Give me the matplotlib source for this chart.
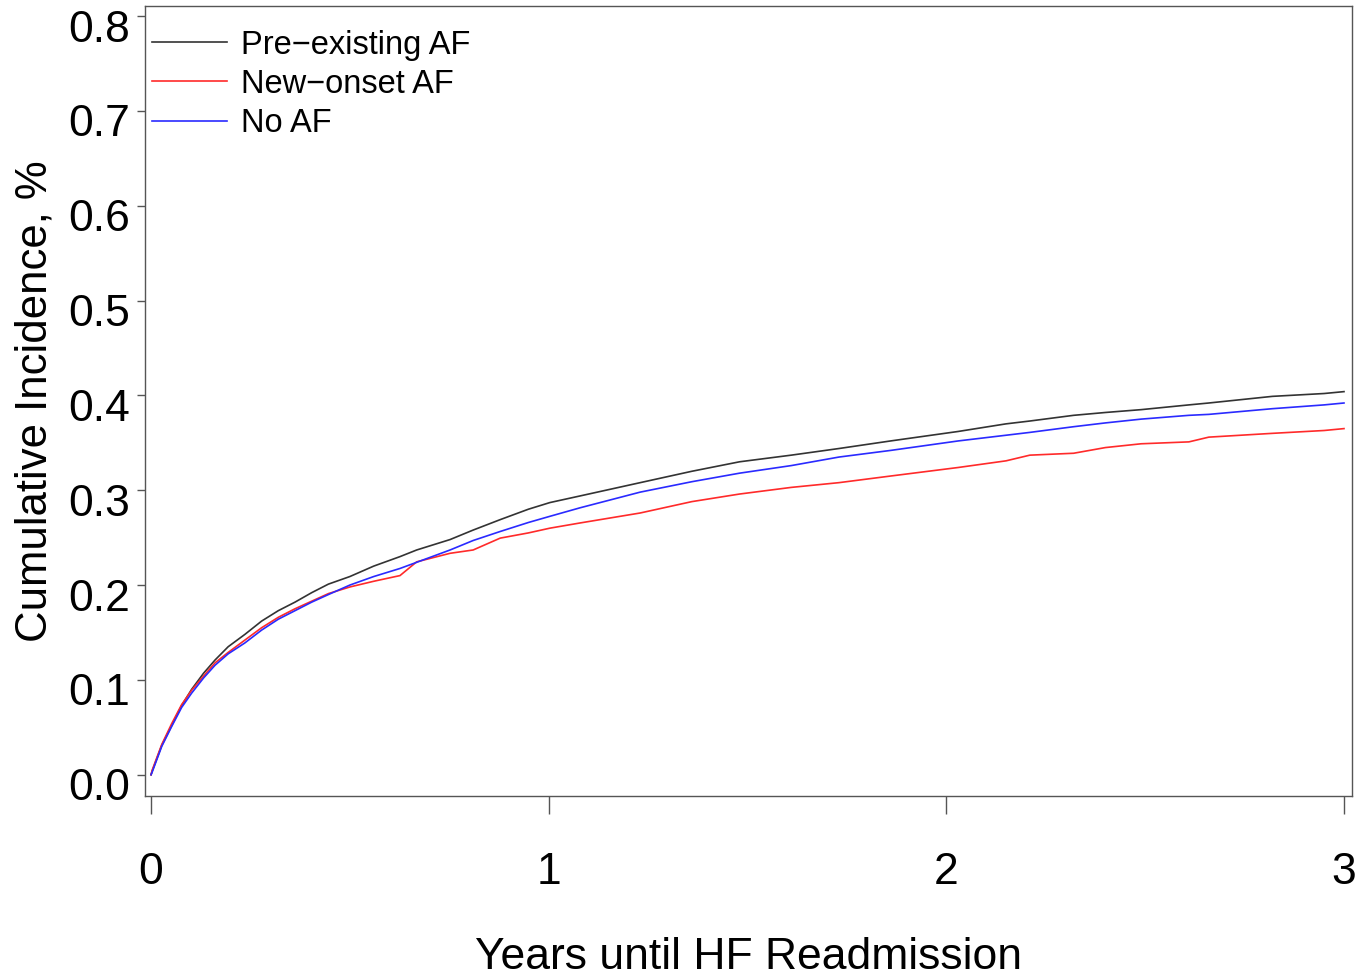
import matplotlib
matplotlib.use("Agg")
import matplotlib.pyplot as plt
import matplotlib.transforms as mtransforms

# time in years
years = [0.0, 0.003, 0.027, 0.052, 0.077, 0.102, 0.132, 0.161, 0.194, 0.236,
         0.278, 0.320, 0.362, 0.404, 0.446, 0.500, 0.560, 0.626, 0.668, 0.752,
         0.810, 0.878, 0.949, 1.003, 1.079, 1.23, 1.36, 1.48, 1.61, 1.73,
         1.86, 2.03, 2.15, 2.21, 2.32, 2.40, 2.49, 2.61, 2.66, 2.82,
         2.95, 3.00]

pre_existing_af = [0.000, 0.004, 0.031, 0.052, 0.073, 0.090, 0.107, 0.121, 0.135, 0.148,
                   0.162, 0.173, 0.182, 0.192, 0.201, 0.209, 0.220, 0.230, 0.237, 0.248,
                   0.258, 0.269, 0.280, 0.287, 0.294, 0.308, 0.320, 0.330, 0.337, 0.344,
                   0.352, 0.362, 0.370, 0.373, 0.379, 0.382, 0.385, 0.390, 0.392, 0.399,
                   0.402, 0.404]

new_onset_af = [0.000, 0.005, 0.032, 0.054, 0.074, 0.089, 0.104, 0.118, 0.129, 0.142,
                0.155, 0.166, 0.175, 0.183, 0.191, 0.198, 0.204, 0.210, 0.2245, 0.2335,
                0.237, 0.2495, 0.255, 0.260, 0.2655, 0.276, 0.288, 0.296, 0.303, 0.308,
                0.315, 0.324, 0.331, 0.337, 0.339, 0.345, 0.349, 0.351, 0.356, 0.360,
                0.363, 0.365]

no_af = [0.000, 0.003, 0.030, 0.051, 0.071, 0.086, 0.102, 0.1155, 0.1275, 0.139,
         0.1525, 0.164, 0.173, 0.182, 0.190, 0.200, 0.209, 0.2175, 0.224, 0.237,
         0.247, 0.2565, 0.266, 0.2725, 0.2815, 0.298, 0.309, 0.318, 0.326, 0.335,
         0.342, 0.352, 0.358, 0.361, 0.367, 0.371, 0.375, 0.379, 0.380, 0.386,
         0.390, 0.392]

series_labels = ["Pre\u2212existing AF", "New\u2212onset AF", "No AF"]
series_colors = ["#333333", "#ff2a2a", "#2a2aff"]

x_ticks = [0, 1, 2, 3]
y_ticks = [0.0, 0.1, 0.2, 0.3, 0.4, 0.5, 0.6, 0.7, 0.8]

plt.rcParams["font.family"] = ["Liberation Sans", "DejaVu Sans"]

fig = plt.figure(figsize=(13.71, 9.77), dpi=100)
ax = fig.add_axes([0.1058, 0.1853, 0.8803, 0.8086])

for vals, label, color in zip([pre_existing_af, new_onset_af, no_af],
                              series_labels, series_colors):
    ax.plot(years, vals, color=color, linewidth=1.2, label=label)

ax.set_xlim(-0.0151, 3.020)
ax.set_ylim(-0.0224, 0.8107)

ax.set_xticks(x_ticks)
ax.set_xticklabels([str(t) for t in x_ticks])
ax.set_yticks(y_ticks)
ax.set_yticklabels([f"{t:.1f}" for t in y_ticks])

for sp in ax.spines.values():
    sp.set_color("#555555")
    sp.set_linewidth(1.0)

ax.tick_params(axis="y", length=6, width=1.0, color="#555555",
               labelsize=32, pad=5)
ax.tick_params(axis="x", length=13, width=1.0, color="#555555",
               labelsize=32, pad=27)

# R draws the y labels a little below their ticks
shift = mtransforms.ScaledTranslation(0, -9.5 / 100, fig.dpi_scale_trans)
for lbl in ax.get_yticklabels():
    lbl.set_transform(lbl.get_transform() + shift)

ax.set_xlabel("Years until HF Readmission", fontsize=32, labelpad=32)
ax.set_ylabel("Cumulative Incidence, %", fontsize=31.5, labelpad=9)

ax.legend(loc="upper left", bbox_to_anchor=(0.0058, 0.97), frameon=False,
          fontsize=23.5, handlelength=2.3, handletextpad=0.44, labelspacing=0.25,
          borderpad=0, borderaxespad=0)

fig.savefig("out.png", dpi=100)
plt.close(fig)
